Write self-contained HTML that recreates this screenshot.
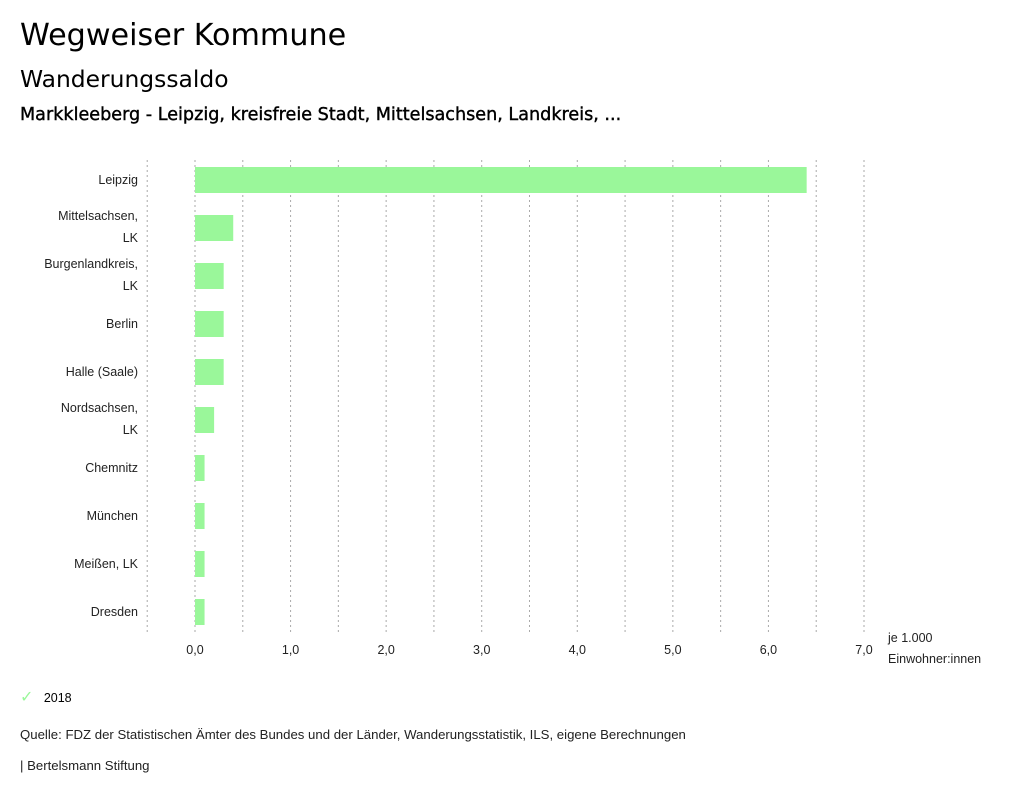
<!DOCTYPE html>
<html><head><meta charset="utf-8"><style>
body{margin:0;width:1024px;height:799px;background:#fff;font-family:"Liberation Sans","DejaVu Sans",sans-serif;color:#000;position:relative;overflow:hidden}
.t{position:absolute;white-space:nowrap}
.d{font-family:"DejaVu Sans","Liberation Sans",sans-serif}
</style></head><body>
<div class="t d" style="left:20px;top:18px;font-size:30.2px">Wegweiser Kommune</div>
<div class="t d" style="left:20px;top:65px;font-size:23.4px">Wanderungssaldo</div>
<div class="t d" style="left:20px;top:105px;font-size:17.6px;-webkit-text-stroke:0.4px #000">Markkleeberg - Leipzig, kreisfreie Stadt, Mittelsachsen, Landkreis, ...</div>
<svg id="chart" width="1024" height="680" style="position:absolute;left:0;top:0" font-family="Liberation Sans, DejaVu Sans, sans-serif"></svg>
<div class="t" style="left:20px;top:687px;font-size:12.5px"><span style="color:#9af79a;font-size:16px">✓</span>&nbsp;&nbsp;&nbsp;2018</div>
<div class="t" style="left:20px;top:727px;font-size:13.2px;color:#222">Quelle: FDZ der Statistischen Ämter des Bundes und der Länder, Wanderungsstatistik, ILS, eigene Berechnungen</div>
<div class="t" style="left:20px;top:758px;font-size:13.2px;color:#222">| Bertelsmann Stiftung</div>
<script>
const categories=[["Leipzig"],["Mittelsachsen,","LK"],["Burgenlandkreis,","LK"],["Berlin"],["Halle (Saale)"],["Nordsachsen,","LK"],["Chemnitz"],["München"],["Meißen, LK"],["Dresden"]];
const values=[6.4,0.4,0.3,0.3,0.3,0.2,0.1,0.1,0.1,0.1];
const tickValues=[0,1,2,3,4,5,6,7];
const tickLabels=["0,0","1,0","2,0","3,0","4,0","5,0","6,0","7,0"];
const svg=document.getElementById('chart');
const NS='http://www.w3.org/2000/svg';
const x=v=>195+v*(864-195)/7;
const band=48, top0=156;
const yc=i=>top0+band*i+band/2;
function mk(t,a){const e=document.createElementNS(NS,t);for(const k in a)e.setAttribute(k,a[k]);svg.appendChild(e);return e;}
for(let g=-0.5;g<=7.001;g+=0.5){
 const l=mk('line',{x1:x(g),x2:x(g),y1:160,y2:635,stroke:'#aaa','stroke-dasharray':'2,3','stroke-width':1});
 
 
}
tickValues.forEach((v,i)=>{
 const t=mk('text',{x:x(v),y:654,'font-size':12.5,'text-anchor':'middle',fill:'#222'});
 t.textContent=tickLabels[i];
 
 
});
const u1=mk('text',{x:888,y:642,'font-size':12.5,fill:'#222'});u1.textContent='je 1.000';


const u2=mk('text',{x:888,y:663,'font-size':12.5,fill:'#222'});u2.textContent='Einwohner:innen';


values.forEach((v,i)=>{
 const r=mk('rect',{x:x(0),y:yc(i)-13,width:x(v)-x(0),height:26,fill:'#9af79a'});
 
 
 const lines=categories[i];
 lines.forEach((s,j)=>{
  const dy=lines.length===1?4:(j===0?-8:14);
  const t=mk('text',{x:138,y:yc(i)+dy,'font-size':12.5,'text-anchor':'end',fill:'#222'});
  t.textContent=s;
  
  
 });
});
</script>
</body></html>
